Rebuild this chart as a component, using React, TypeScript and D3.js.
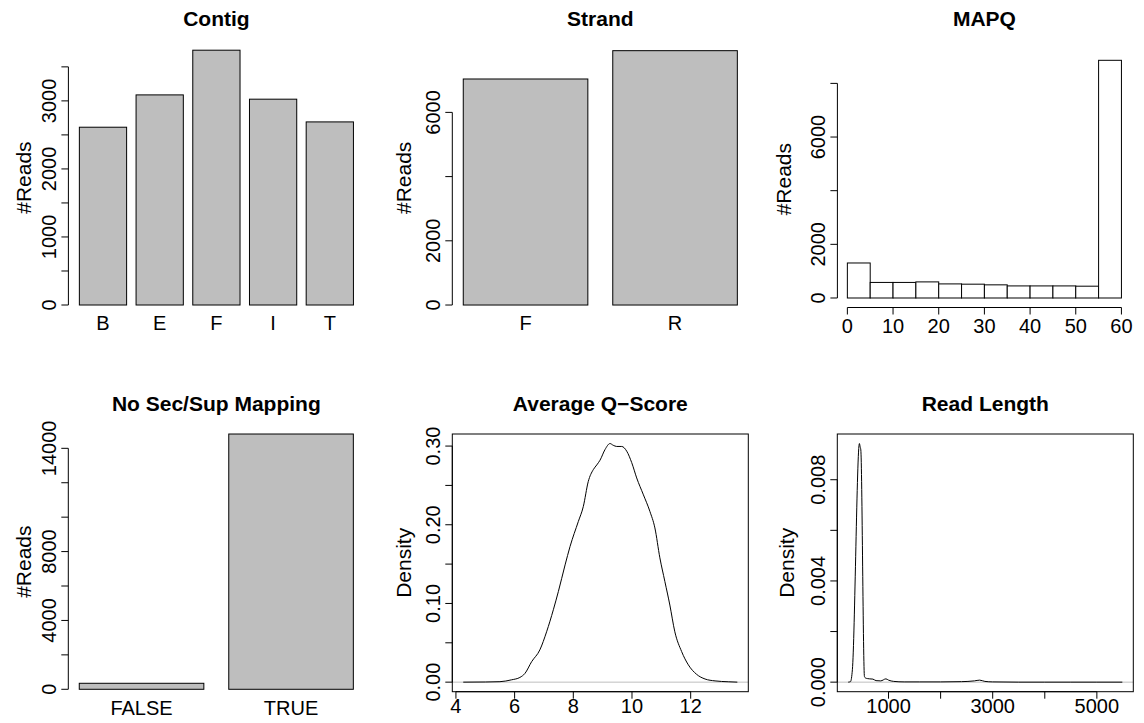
import React from "react";
import * as d3 from "d3";

// ---------- DATA ----------
const contigCats = ["B", "E", "F", "I", "T"];
const contigCounts = [2613, 3088, 3745, 3025, 2691];
const contigTicks = [0, 500, 1000, 1500, 2000, 2500, 3000, 3500];
const contigLabels = [0, 1000, 2000, 3000];

const strandCats = ["F", "R"];
const strandCounts = [7040, 7922];
const strandTicks = [0, 2000, 4000, 6000];
const strandLabels = [0, 2000, 6000];

const mapqBreaks = [0, 5, 10, 15, 20, 25, 30, 35, 40, 45, 50, 55, 60];
const mapqCounts = [1305, 580, 580, 600, 525, 515, 490, 450, 450, 450, 440, 8860];
const mapqYTicks = [0, 2000, 4000, 6000, 8000];
const mapqYLabels = [0, 2000, 6000];
const mapqXTicks = [0, 10, 20, 30, 40, 50, 60];

const secCats = ["FALSE", "TRUE"];
const secCounts = [349, 14831];
const secTicks = [0, 2000, 4000, 6000, 8000, 10000, 12000, 14000];
const secLabels = [0, 4000, 8000, 14000];

const qX = [4.25, 5.0, 5.5, 5.9, 6.18, 6.35, 6.58, 6.86, 7.09, 7.32, 7.49, 7.72, 7.89, 8.17, 8.34, 8.51, 8.68, 8.8, 8.91, 9.08, 9.25, 9.36, 9.48, 9.65, 9.82, 9.99, 10.16, 10.39, 10.61, 10.78, 10.95, 11.12, 11.29, 11.46, 11.69, 11.92, 12.2, 12.49, 12.83, 13.28, 13.59];
const qD = [0, 0.0002, 0.0006, 0.003, 0.006, 0.011, 0.026, 0.041, 0.064, 0.092, 0.115, 0.149, 0.1725, 0.204, 0.223, 0.255, 0.27, 0.276, 0.282, 0.2955, 0.3032, 0.301, 0.2995, 0.2995, 0.2935, 0.279, 0.2595, 0.238, 0.217, 0.196, 0.158, 0.128, 0.098, 0.064, 0.039, 0.022, 0.01, 0.004, 0.0016, 0.0005, 0];
const qYTicks = [0, 0.05, 0.1, 0.15, 0.2, 0.25, 0.3];
const qYLabels = ["0.00", "0.10", "0.20", "0.30"];
const qXTicks = [4, 6, 8, 10, 12];

const rlX = [227, 270, 306, 441, 455, 468, 538, 561, 600, 640, 700, 760, 850, 950, 1000, 1100, 1300, 1600, 2000, 2400, 2650, 2750, 2850, 3000, 3500, 4000, 4500, 5000, 5489];
const rlD = [0, 0.00002, 0.00049, 0.00943, 0.0093, 0.00918, 0.00022, 0.00016, 0.00014, 0.00013, 0.00012, 0.00006, 0.00005, 0.00013, 0.00008, 0.00003, 0.00001, 0.00001, 0.00001, 0.00002, 0.00005, 0.00008, 0.00003, 0.00001, 0, 0, 0, 0, 0];
const rlYTicks = [0, 0.002, 0.004, 0.006, 0.008];
const rlYLabels = ["0.000", "0.004", "0.008"];
const rlXTicks = [1000, 2000, 3000, 4000, 5000];
const rlXLabels = [1000, 3000, 5000];

// ---------- STYLE ----------
const FONT = "'Liberation Sans', Arial, Helvetica, sans-serif";
const TICK_FS = 20;
const LAB_FS = 21;
const MAIN_FS = 21;
const TICK_LEN = 7;
const BAR_FILL = "#BEBEBE";

type YAxisProps = { scale: any; x: number; ticks: number[]; labels: (number | string)[]; labelValues?: number[] };

function YAxis({ scale, x, ticks, labels, labelValues }: YAxisProps) {
  const vals = labelValues ?? (labels as number[]);
  return (
    <g>
      <line x1={x} x2={x} y1={scale(ticks[0])} y2={scale(ticks[ticks.length - 1])} stroke="#000" />
      {ticks.map((t) => (
        <line key={t} x1={x - TICK_LEN} x2={x} y1={scale(t)} y2={scale(t)} stroke="#000" />
      ))}
      {vals.map((v, i) => (
        <text key={i} transform={`translate(${x - 12.5},${scale(v)}) rotate(-90)`} textAnchor="middle" fontSize={TICK_FS}>
          {String(labels[i])}
        </text>
      ))}
    </g>
  );
}

function XAxis({ scale, y, ticks, labels, off }: { scale: any; y: number; ticks: number[]; labels: number[]; off: number }) {
  return (
    <g>
      <line x1={scale(ticks[0])} x2={scale(ticks[ticks.length - 1])} y1={y} y2={y} stroke="#000" />
      {ticks.map((t) => (
        <line key={t} x1={scale(t)} x2={scale(t)} y1={y} y2={y + TICK_LEN} stroke="#000" />
      ))}
      {labels.map((v) => (
        <text key={v} x={scale(v)} y={y + off} textAnchor="middle" fontSize={TICK_FS}>
          {v}
        </text>
      ))}
    </g>
  );
}

function Titles({ left, right, top, bottom, title, titleY, ylab, ylabOff }: any) {
  const cx = (left + right) / 2;
  const cy = (top + bottom) / 2;
  return (
    <g>
      <text x={cx} y={titleY} textAnchor="middle" fontSize={MAIN_FS} fontWeight="bold">
        {title}
      </text>
      <text transform={`translate(${left - ylabOff},${cy}) rotate(-90)`} textAnchor="middle" fontSize={LAB_FS}>
        {ylab}
      </text>
    </g>
  );
}

function BarPanel({ cats, counts, ticks, labels, title, left, top, bottom, titleY, ylabOff }: any) {
  const right = left + 296;
  const n = cats.length;
  const xmin = 0.2;
  const xmax = n * 1.2;
  const xpad = (xmax - xmin) * 0.04;
  const x = d3.scaleLinear().domain([xmin - xpad, xmax + xpad]).range([left, right]);
  const M = d3.max(counts as number[]) as number;
  const y = d3.scaleLinear().domain([-0.04 * M, 1.04 * M]).range([bottom, top]);
  return (
    <g>
      {cats.map((c: string, i: number) => {
        const l = 0.2 + i * 1.2;
        return (
          <g key={c}>
            <rect x={x(l)} y={y(counts[i])} width={x(l + 1) - x(l)} height={y(0) - y(counts[i])} fill={BAR_FILL} stroke="#000" strokeWidth={1} />
            <text x={x(l + 0.5)} y={bottom + 15} textAnchor="middle" fontSize={TICK_FS}>
              {c}
            </text>
          </g>
        );
      })}
      <YAxis scale={y} x={left} ticks={ticks} labels={labels} />
      <Titles left={left} right={right} top={top} bottom={bottom} title={title} titleY={titleY} ylab="#Reads" ylabOff={ylabOff} />
    </g>
  );
}

function HistPanel({ left, top, bottom, titleY, ylabOff }: any) {
  const right = left + 296;
  const lo = mapqBreaks[0];
  const hi = mapqBreaks[mapqBreaks.length - 1];
  const pad = (hi - lo) * 0.04;
  const x = d3.scaleLinear().domain([lo - pad, hi + pad]).range([left, right]);
  const M = d3.max(mapqCounts) as number;
  const y = d3.scaleLinear().domain([-0.04 * M, 1.04 * M]).range([bottom, top]);
  return (
    <g>
      {mapqCounts.map((c, i) => (
        <rect key={i} x={x(mapqBreaks[i])} y={y(c)} width={x(mapqBreaks[i + 1]) - x(mapqBreaks[i])} height={y(0) - y(c)} fill="#fff" stroke="#000" />
      ))}
      <YAxis scale={y} x={left + 1} ticks={mapqYTicks} labels={mapqYLabels} />
      <XAxis scale={x} y={bottom} ticks={mapqXTicks} labels={mapqXTicks} off={25.5} />
      <Titles left={left} right={right} top={top} bottom={bottom} title="MAPQ" titleY={titleY} ylab="#Reads" ylabOff={ylabOff} />
    </g>
  );
}

function DensityPanel({ xs, ds, yTicks, yLabels, yLabelVals, xTicks, xLabels, title, left, top, bottom, titleY, ylabOff }: any) {
  const right = left + 296;
  const [lo, hi] = d3.extent(xs as number[]) as [number, number];
  const pad = (hi - lo) * 0.04;
  const x = d3.scaleLinear().domain([lo - pad, hi + pad]).range([left, right]);
  const M = d3.max(ds as number[]) as number;
  const y = d3.scaleLinear().domain([-0.04 * M, 1.04 * M]).range([bottom, top]);
  const pts: [number, number][] = xs.map((v: number, i: number) => [v, ds[i]]);
  const line = d3
    .line<[number, number]>()
    .x((d) => x(d[0]))
    .y((d) => y(d[1]))
    .curve(d3.curveMonotoneX);
  return (
    <g>
      <line x1={left} x2={right} y1={y(0)} y2={y(0)} stroke="#BEBEBE" />
      <path d={line(pts) || ""} fill="none" stroke="#000" strokeWidth={1} />
      <rect x={left} y={top} width={right - left} height={bottom - top} fill="none" stroke="#000" />
      <YAxis scale={y} x={left} ticks={yTicks} labels={yLabels} labelValues={yLabelVals} />
      <XAxis scale={x} y={bottom} ticks={xTicks} labels={xLabels} off={21.5} />
      <Titles left={left} right={right} top={top} bottom={bottom} title={title} titleY={titleY} ylab="Density" ylabOff={ylabOff} />
    </g>
  );
}

export default function App() {
  return (
    <svg
      width={1144}
      height={723}
      style={{ position: "absolute", left: 0, top: 0, background: "#fff", fontFamily: FONT }}
      fontFamily={FONT}
    >
      <rect x={0} y={0} width={1144} height={723} fill="#fff" />
      <BarPanel cats={contigCats} counts={contigCounts} ticks={contigTicks} labels={contigLabels} title="Contig" left={68.4} top={40} bottom={315.2} titleY={26} ylabOff={37} />
      <BarPanel cats={strandCats} counts={strandCounts} ticks={strandTicks} labels={strandLabels} title="Strand" left={452.3} top={40.5} bottom={315.2} titleY={26} ylabOff={41} />
      <HistPanel left={836.4} top={50.8} bottom={307.5} titleY={26} ylabOff={45} />
      <BarPanel cats={secCats} counts={secCounts} ticks={secTicks} labels={secLabels} title="No Sec/Sup Mapping" left={68.3} top={423.8} bottom={699.5} titleY={411} ylabOff={37} />
      <DensityPanel xs={qX} ds={qD} yTicks={qYTicks} yLabels={qYLabels} yLabelVals={[0, 0.1, 0.2, 0.3]} xTicks={qXTicks} xLabels={qXTicks} title="Average Q−Score" left={452.3} top={434} bottom={691.7} titleY={411} ylabOff={41} />
      <DensityPanel xs={rlX} ds={rlD} yTicks={rlYTicks} yLabels={rlYLabels} yLabelVals={[0, 0.004, 0.008]} xTicks={rlXTicks} xLabels={rlXLabels} title="Read Length" left={837.3} top={434} bottom={691.7} titleY={411} ylabOff={43} />
    </svg>
  );
}
